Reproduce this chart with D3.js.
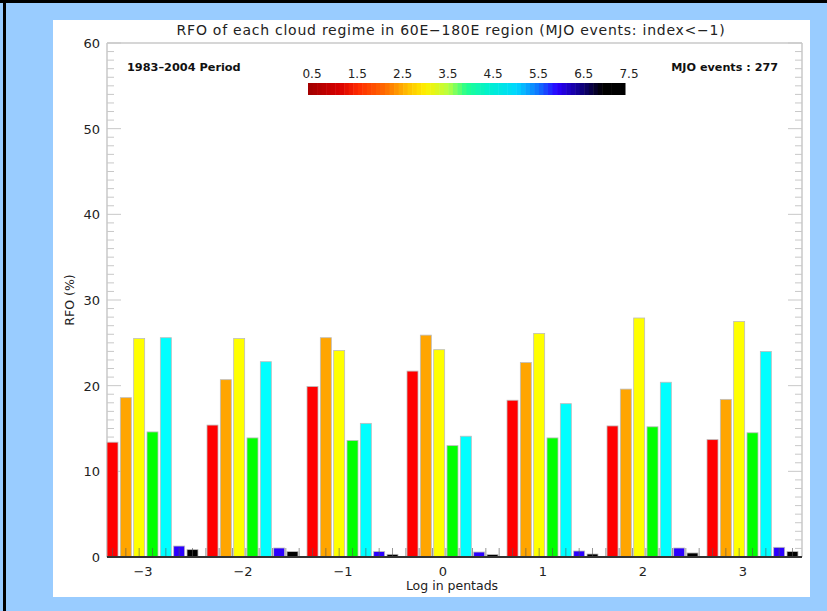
<!DOCTYPE html>
<html>
<head>
<meta charset="utf-8">
<script src="https://cdn.jsdelivr.net/npm/d3@7"></script>
<style>
  body { margin: 0; background: #fff; }
  svg text { font-family: "DejaVu Sans", sans-serif; }
</style>
</head>
<body>
<div id="chart"></div>
<script>
// chart values
const lags = [-3, -2, -1, 0, 1, 2, 3];
const regimes = ["CR1", "CR2", "CR3", "CR4", "CR5", "CR6", "CR7"];
const regimeColors = ["#ff0000", "#ffa500", "#ffff00", "#00ff00", "#00ffff", "#2a00ff", "#000000"];
const cr1 = [13.4, 15.4, 19.9, 21.7, 18.3, 15.3, 13.7];
const cr2 = [18.6, 20.7, 25.6, 25.9, 22.7, 19.6, 18.4];
const cr3 = [25.5, 25.5, 24.1, 24.2, 26.1, 27.9, 27.5];
const cr4 = [14.6, 13.9, 13.6, 13.0, 13.9, 15.2, 14.5];
const cr5 = [25.6, 22.8, 15.6, 14.1, 17.9, 20.4, 24.0];
const cr6 = [1.28, 1.05, 0.63, 0.58, 0.70, 1.05, 1.13];
const cr7 = [0.86, 0.63, 0.31, 0.28, 0.35, 0.47, 0.63];
const yTicks = [0, 10, 20, 30, 40, 50, 60];
const cbarLabels = [0.5, 1.5, 2.5, 3.5, 4.5, 5.5, 6.5, 7.5];
const cbarStops = [0.5, 1.2, 1.6, 2.2, 2.7, 3.1, 3.6, 4.0, 4.5, 5.1, 5.6, 6.0, 6.5, 7.0, 7.5];
const cbarStopColors = ["#a00000", "#d80000", "#ff2a00", "#ff6a00", "#ffc000", "#fff000", "#b8ff40",
  "#20ff90", "#00f0d0", "#00d8ff", "#1070ff", "#2a00ff", "#10008a", "#000000", "#000000"];

const series = [cr1, cr2, cr3, cr4, cr5, cr6, cr7];

const W = 827, H = 611;

const svg = d3.select("#chart").append("svg")
  .attr("width", W)
  .attr("height", H);

// frame: blue page, black border, white panel
svg.append("rect").attr("width", W).attr("height", H).attr("fill", "#99ccff");
svg.append("rect").attr("x", 0).attr("y", 0).attr("width", W).attr("height", 3).attr("fill", "#000");
svg.append("rect").attr("x", 3).attr("y", 0).attr("width", 3).attr("height", H).attr("fill", "#000");
svg.append("rect").attr("x", 53).attr("y", 20).attr("width", 757).attr("height", 577).attr("fill", "#fff");

const plotW = 695;
const y = d3.scaleLinear().domain([0, 60]).range([557, 43]);

const x = d3.scaleBand().domain(lags).range([107, 807]).paddingInner(0).paddingOuter(0);
const xBar = d3.scaleBand().domain(d3.range(regimes.length)).range([0, 91]).paddingInner(0.175);

// axes frame (light gray, like the IDL output)
const axisCol = "#c8c8c8";
svg.append("line").attr("x1", 107).attr("x2", 107 + plotW).attr("y1", y(60)).attr("y2", y(60))
  .attr("stroke", axisCol).attr("stroke-width", 1.5);
svg.append("line").attr("x1", 107).attr("x2", 107).attr("y1", y(0)).attr("y2", y(60))
  .attr("stroke", axisCol).attr("stroke-width", 1.5);
svg.append("line").attr("x1", 107 + plotW).attr("x2", 107 + plotW).attr("y1", y(0)).attr("y2", y(60))
  .attr("stroke", axisCol).attr("stroke-width", 1.5);

// y ticks, left and right
const minor = d3.range(0, 61, 1);
svg.append("g").selectAll("line").data(minor).join("line")
  .attr("x1", 107).attr("x2", d => 107 + (d % 10 === 0 ? 14 : 7))
  .attr("y1", d => y(d)).attr("y2", d => y(d))
  .attr("stroke", axisCol);
svg.append("g").selectAll("line").data(minor).join("line")
  .attr("x1", 107 + plotW).attr("x2", d => 107 + plotW - (d % 10 === 0 ? 14 : 7))
  .attr("y1", d => y(d)).attr("y2", d => y(d))
  .attr("stroke", axisCol);

svg.append("g").selectAll("text").data(yTicks).join("text")
  .attr("x", 100).attr("y", d => y(d) + 5)
  .attr("text-anchor", "end")
  .attr("font-size", 13)
  .attr("fill", "#222")
  .text(d => d);

// bars
const groups = svg.append("g").selectAll("g").data(lags).join("g")
  .attr("transform", d => `translate(${x(d)},0)`);

groups.selectAll("rect")
  .data((d, i) => series.map((s, k) => ({ k, v: s[i] })))
  .join("rect")
  .attr("x", d => xBar(d.k))
  .attr("width", xBar.bandwidth())
  .attr("y", d => y(d.v))
  .attr("height", d => y(0) - y(d.v))
  .attr("fill", d => regimeColors[d.k])
  .attr("stroke", "#bdbdbd")
  .attr("stroke-width", 0.8);

// minor ticks along the bottom axis, drawn over the bars
const xMinor = d3.range(0, 53).map(k => 112.5 + k * (100 / 7.5)).filter(p => p < 107 + plotW);
svg.append("g").selectAll("line").data(xMinor).join("line")
  .attr("x1", d => d).attr("x2", d => d)
  .attr("y1", y(0)).attr("y2", y(0) - 9)
  .attr("stroke", "#555").attr("stroke-opacity", 0.6);

// baseline
svg.append("line").attr("x1", 107).attr("x2", 107 + plotW).attr("y1", y(0)).attr("y2", y(0))
  .attr("stroke", "#333").attr("stroke-width", 2);

// x tick labels
svg.append("g").selectAll("text").data(lags).join("text")
  .attr("x", d => x(d) + 36)
  .attr("y", 576)
  .attr("text-anchor", "middle")
  .attr("font-size", 13)
  .attr("fill", "#222")
  .text(d => d < 0 ? "\u2212" + Math.abs(d) : d);

// axis titles
svg.append("text")
  .attr("x", 452).attr("y", 590)
  .attr("text-anchor", "middle")
  .attr("font-size", 12.5)
  .attr("fill", "#222")
  .text("Log in pentads");

svg.append("text")
  .attr("transform", "translate(74,300) rotate(-90)")
  .attr("text-anchor", "middle")
  .attr("font-size", 12.5)
  .attr("fill", "#222")
  .text("RFO (%)");

// title
svg.append("text")
  .attr("x", 451).attr("y", 35)
  .attr("text-anchor", "middle")
  .attr("font-size", 14)
  .attr("letter-spacing", 0.75)
  .attr("fill", "#222")
  .text("RFO of each cloud regime in 60E\u2212180E region (MJO events: index<\u22121)");

// annotations
svg.append("text")
  .attr("x", 127).attr("y", 71)
  .attr("font-size", 11.3)
  .attr("font-weight", "bold")
  .attr("fill", "#111")
  .text("1983\u20132004 Period");

svg.append("text")
  .attr("x", 778).attr("y", 71)
  .attr("text-anchor", "end")
  .attr("font-size", 11.2)
  .attr("font-weight", "bold")
  .attr("fill", "#111")
  .text("MJO events : 277");

// colour bar
const cb = d3.scaleLinear().domain([0.5, 7.5]).range([308, 625]);
const cmap = d3.scaleLinear().domain(cbarStops).range(cbarStopColors);
const cells = d3.range(0.5, 7.5, 0.1);
svg.append("g").selectAll("rect").data(cells).join("rect")
  .attr("x", d => cb(d))
  .attr("y", 83)
  .attr("width", cb(0.6) - cb(0.5) + 0.5)
  .attr("height", 12)
  .attr("fill", d => cmap(d + 0.05));

svg.append("g").selectAll("text").data(cbarLabels).join("text")
  .attr("x", d => cb(d) + 4)
  .attr("y", 78)
  .attr("text-anchor", "middle")
  .attr("font-size", 12)
  .attr("fill", "#222")
  .text(d => d.toFixed(1));
</script>
</body>
</html>
